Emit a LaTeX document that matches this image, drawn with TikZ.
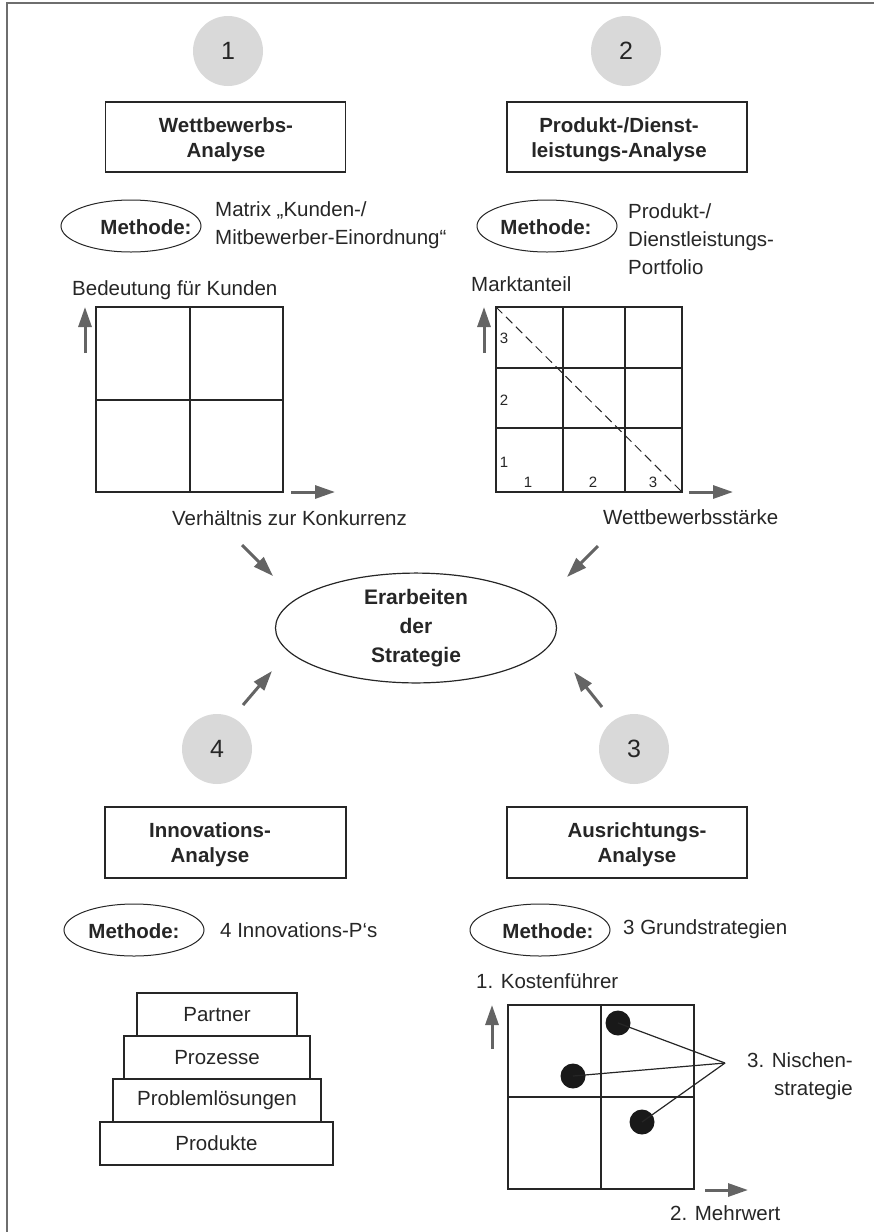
\documentclass[tikz,border=0pt]{standalone}
\usepackage{fontspec}
\setmainfont{Liberation Sans}
\usetikzlibrary{arrows.meta,shapes.geometric}
\definecolor{ink}{RGB}{38,38,38}
\definecolor{arr}{RGB}{100,100,100}
\definecolor{circ}{RGB}{217,217,217}
\definecolor{frame}{RGB}{110,110,110}
\tikzset{
  numcirc/.style={circle, fill=circ, minimum size=70pt, inner sep=0pt, text=ink, font=\fontsize{25}{30}\selectfont},
  abox/.style={draw=ink, line width=1.3pt, minimum width=240pt, minimum height=70pt, inner sep=0pt},
  btxt/.style={font=\bfseries\fontsize{20.5}{25}\selectfont, align=center, text=ink, inner sep=0pt},
  rtxt/.style={font=\fontsize{20.5}{28}\selectfont, align=left, text=ink, inner sep=0pt},
  meth/.style={ellipse, draw=ink, line width=1pt, minimum width=140pt, minimum height=52pt, inner sep=0pt},
  mtxt/.style={font=\bfseries\fontsize{20.5}{25}\selectfont, text=ink, inner sep=0pt},
  garrow/.style={draw=arr, line width=3pt, -{Triangle[length=20pt,width=13pt]}},
  gridline/.style={draw=ink, line width=1.3pt},
  smalltxt/.style={font=\fontsize{15}{18}\selectfont, text=ink, inner sep=0pt},
  stackbox/.style={draw=ink, line width=1.3pt, minimum height=43pt, inner sep=0pt, font=\fontsize{20.5}{25}\selectfont, text=ink},
  dot/.style={circle, fill=black!90, minimum size=25pt, inner sep=0pt},
  thinline/.style={draw=ink, line width=1.2pt}
}
\begin{document}
\begin{tikzpicture}[x=1pt,y=-1pt]
\useasboundingbox (0,0) rectangle (874,1232);
% frame
\draw[frame, line width=1.3pt] (7,1232) -- (7,3) -- (874,3);

% ---------- section 1 ----------
\node[numcirc] (c1) at (228,51) {1};
\node[abox] (b1) at (225.5,137) {};
\node[btxt] (t1) at (226,139.5) {Wettbewerbs-\\Analyse};
\node[meth] (e1) at (131,226) {};
\node[mtxt] (m1) at (146,227) {Methode:};
\node[rtxt, anchor=west] (d1) at (215,225) {Matrix „Kunden-/\\Mitbewerber-Einordnung“};
\node[rtxt, anchor=west] (y1) at (72,290) {Bedeutung für Kunden};
\draw[gridline] (96,307) rectangle (283,492);
\draw[gridline] (190,307) -- (190,492);
\draw[gridline] (96,400) -- (283,400);
\coordinate (u1s) at (85,353); \coordinate (u1e) at (85,307);
\draw[garrow] (u1s) -- (u1e);
\coordinate (r1s) at (291,492); \coordinate (r1e) at (335,492);
\draw[garrow] (r1s) -- (r1e);
\node[rtxt, anchor=west] (x1) at (172,518) {Verhältnis zur Konkurrenz};

% ---------- section 2 ----------
\node[numcirc] (c2) at (626,51) {2};
\node[abox] (b2) at (627,137) {};
\node[btxt] (t2) at (619,139.5) {Produkt-/Dienst-\\leistungs-Analyse};
\node[meth] (e2) at (547,226) {};
\node[mtxt] (m2) at (546,227) {Methode:};
\node[rtxt, anchor=west] (d2) at (628,239) {Produkt-/\\Dienstleistungs-\\Portfolio};
\node[rtxt, anchor=west] (y2) at (471,284) {Marktanteil};
\draw[gridline] (496,307) rectangle (682,492);
\draw[gridline] (563,307) -- (563,492);
\draw[gridline] (625,307) -- (625,492);
\draw[gridline] (496,368) -- (682,368);
\draw[gridline] (496,428) -- (682,428);
\draw[draw=ink, line width=1pt, dash pattern=on 9pt off 5pt] (496,307) -- (682,492);
\node[smalltxt] (n23) at (504,338) {3};
\node[smalltxt] (n22) at (504,400) {2};
\node[smalltxt] (n21) at (504,462) {1};
\node[smalltxt] (k1) at (528,482) {1};
\node[smalltxt] (k2) at (593,482) {2};
\node[smalltxt] (k3) at (653,482) {3};
\coordinate (u2s) at (484,353); \coordinate (u2e) at (484,307);
\draw[garrow] (u2s) -- (u2e);
\coordinate (r2s) at (689,492); \coordinate (r2e) at (733,492);
\draw[garrow] (r2s) -- (r2e);
\node[rtxt, anchor=west] (x2) at (603,517) {Wettbewerbsstärke};

% ---------- centre ----------
\node[ellipse, draw=ink, line width=1.2pt, minimum width=281pt, minimum height=102pt, inner sep=0pt,
      font=\bfseries\fontsize{21}{29}\selectfont, align=center, text=ink] (ctr) at (416,628)
      {Erarbeiten\\der\\Strategie};
\coordinate (a1s) at (242,545); \coordinate (a1e) at (273,576);
\coordinate (a2s) at (598,546); \coordinate (a2e) at (567,577);
\coordinate (a4s) at (243,705); \coordinate (a4e) at (272,671);
\coordinate (a3s) at (602,707); \coordinate (a3e) at (574,672);
\draw[garrow] (a1s) -- (a1e);
\draw[garrow] (a2s) -- (a2e);
\draw[garrow] (a4s) -- (a4e);
\draw[garrow] (a3s) -- (a3e);

% ---------- section 4 ----------
\node[numcirc] (c4) at (217,749) {4};
\node[abox, minimum width=241pt, minimum height=71pt] (b4) at (225.5,842.5) {};
\node[btxt] (t4) at (210,844.5) {Innovations-\\Analyse};
\node[meth] (e4) at (134,930) {};
\node[mtxt] (m4) at (134,931) {Methode:};
\node[rtxt, anchor=west] (d4) at (220,930) {4 Innovations-P‘s};
\node[stackbox, minimum width=160pt] (s1) at (217,1014.5) {Partner};
\node[stackbox, minimum width=186pt] (s2) at (217,1057.5) {Prozesse};
\node[stackbox, minimum width=208pt] (s3) at (217,1100.5) {Problemlösungen};
\node[stackbox, minimum width=233pt] (s4) at (216.5,1143.5) {Produkte};

% ---------- section 3 ----------
\node[numcirc] (c3) at (634,749) {3};
\node[abox, minimum width=240pt, minimum height=71pt] (b3) at (627,842.5) {};
\node[btxt] (t3) at (637,844.5) {Ausrichtungs-\\Analyse};
\node[meth] (e3) at (540,930) {};
\node[mtxt] (m3) at (548,931) {Methode:};
\node[rtxt, anchor=west] (d3) at (623,929) {3 Grundstrategien};
\node[rtxt, anchor=west] (y3) at (476,981) {1. Kostenführer};
\draw[gridline] (508,1005) rectangle (694,1189);
\draw[gridline] (601,1005) -- (601,1189);
\draw[gridline] (508,1097) -- (694,1097);
\coordinate (u3s) at (492,1049); \coordinate (u3e) at (492,1005);
\draw[garrow] (u3s) -- (u3e);
\coordinate (r3s) at (705,1190); \coordinate (r3e) at (748,1190);
\draw[garrow] (r3s) -- (r3e);
\node[rtxt, anchor=west] (x3) at (670,1213) {2. Mehrwert};
\node[dot] (p1) at (618,1023) {};
\node[dot] (p2) at (573,1076) {};
\node[dot] (p3) at (642,1122) {};
\coordinate (nis) at (725,1063);
\draw[thinline] (p1.center) -- (nis);
\draw[thinline] (p2.center) -- (nis);
\draw[thinline] (p3.center) -- (nis);
\node[rtxt, align=right, anchor=east] (nt) at (853,1076) {3. Nischen-\\strategie};
\end{tikzpicture}
\end{document}
